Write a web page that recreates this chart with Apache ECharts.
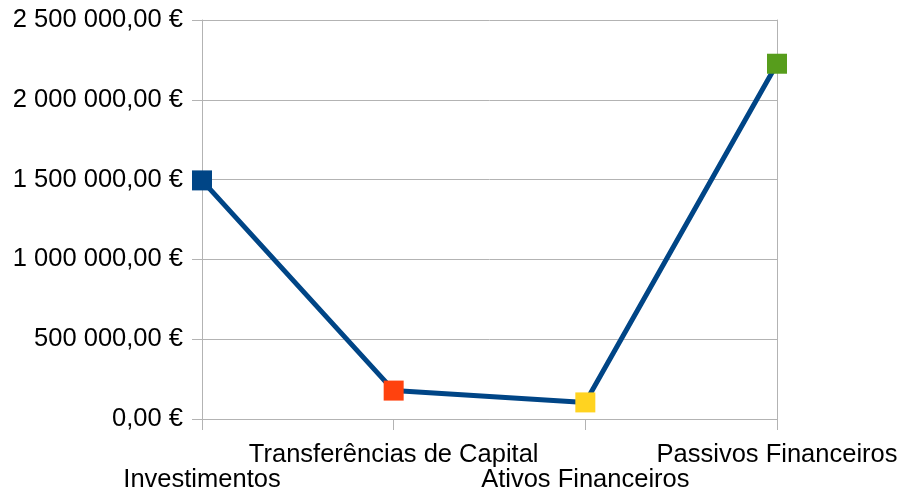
<!DOCTYPE html>
<html>
<head>
<meta charset="utf-8">
<script src="https://cdn.jsdelivr.net/npm/echarts@6/dist/echarts.min.js"></script>
<style>
    html, body { margin: 0; padding: 0; background: #fff; }
    #chart { width: 904px; height: 495px; }
</style>
</head>
<body>
<div id="chart"></div>
<script>
// categorias e valores
const categories = ['Investimentos', 'Transferências de Capital', 'Ativos Financeiros', 'Passivos Financeiros']
const values = [1495000, 178000, 104000, 2226000]
const markerColors = ['#004586', '#ff420e', '#ffd320', '#579d1c']

function euro(v) {
    const parts = v.toFixed(2).split('.')
    const intPart = parts[0].replace(/\B(?=(\d{3})+(?!\d))/g, ' ')
    return intPart + ',' + parts[1] + ' €'
}

function draw() {
    const myChart = echarts.init(document.getElementById('chart'))
    const option = {
        animation: false,
        textStyle: { fontFamily: 'Liberation Sans' },
        grid: { left: 202, right: 127, top: 20, bottom: 76, containLabel: false },
        xAxis: {
            type: 'category',
            data: categories,
            boundaryGap: false,
            axisLine: { lineStyle: { color: '#b3b3b3', width: 1 } },
            axisTick: { show: true, length: 11, lineStyle: { color: '#b3b3b3' } },
            axisLabel: {
                interval: 0,
                margin: 23,
                color: '#000',
                fontSize: 25.5,
                lineHeight: 25,
                // rótulos alternados em duas linhas
                formatter: function (value, index) {
                    return index % 2 === 0 ? '\n' + value : value
                }
            }
        },
        yAxis: [
            {
                type: 'value',
                min: 0,
                max: 2500000,
                interval: 500000,
                axisLine: { show: true, lineStyle: { color: '#b3b3b3' } },
                axisTick: { show: true, length: 10, lineStyle: { color: '#b3b3b3' } },
                splitLine: { lineStyle: { color: '#b3b3b3' } },
                axisLabel: {
                    margin: 19,
                    color: '#000',
                    fontSize: 25.5,
                    formatter: euro
                }
            },
            {
                type: 'value',
                position: 'right',
                min: 0,
                max: 2500000,
                interval: 500000,
                axisLine: { show: true, lineStyle: { color: '#b3b3b3' } },
                axisTick: { show: false },
                axisLabel: { show: false },
                splitLine: { show: false }
            }
        ],
        series: [
            {
                type: 'line',
                data: values.map(function (v, i) {
                    return { value: v, itemStyle: { color: markerColors[i] } }
                }),
                symbol: 'rect',
                symbolSize: 20,
                lineStyle: { color: '#004586', width: 5 },
                itemStyle: { color: '#004586' }
            }
        ]
    }
    myChart.setOption(option)
}
draw()
</script>
</body>
</html>
